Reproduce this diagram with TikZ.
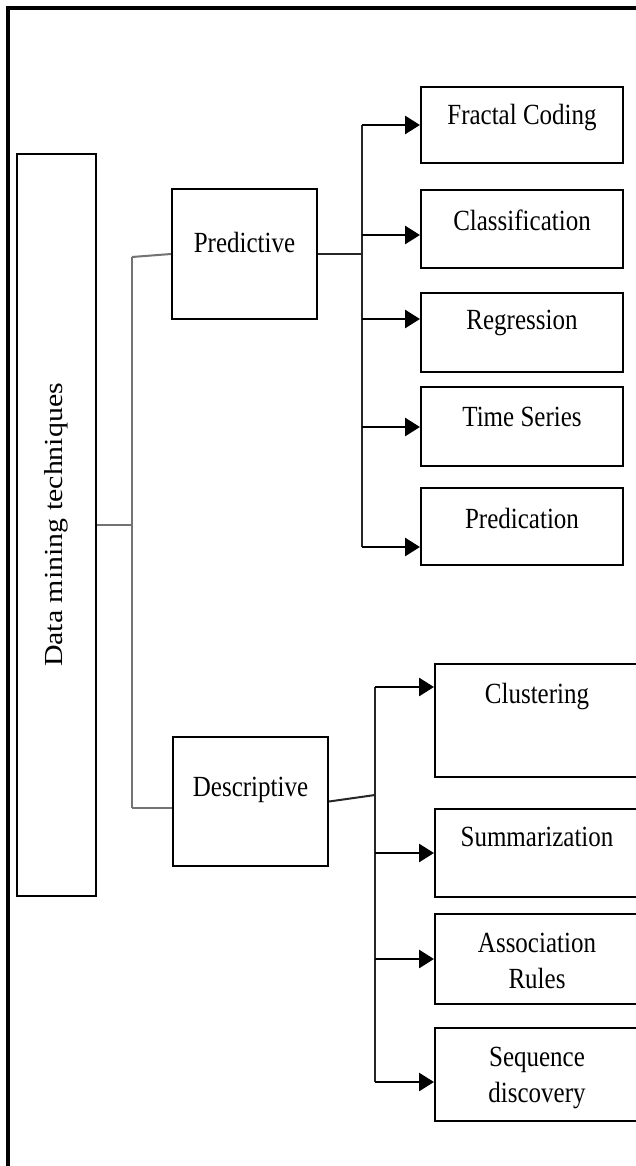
\documentclass[tikz,border=0pt]{standalone}
\usepackage{fontspec}
\setmainfont{Liberation Serif}
\usetikzlibrary{arrows.meta}
\newcommand{\st}[1]{\scalebox{1}[1.17]{#1}}
\begin{document}
\begin{tikzpicture}[x=1pt,y=-1pt,
  box/.style={draw, line width=2pt, inner sep=0pt},
  lbl/.style={font=\fontsize{25}{31}\selectfont, inner sep=0pt, align=center},
  conn/.style={line width=2pt, draw=black!55},
  bus/.style={line width=2pt, draw=black!85},
  arr/.style={line width=2.8pt, -{Triangle[length=15pt,width=18pt]}}]
\clip (0,0) rectangle (636,1166);
\fill[white] (0,0) rectangle (636,1166);
% outer frame (cropped on right and bottom)
\draw[line width=3.5pt] (8,1180) -- (8,8) -- (660,8);

% root
\node[box, minimum width=79pt, minimum height=742pt] (main) at (56.5,525) {};
\node[lbl, rotate=90, font=\fontsize{26}{31}\selectfont] (mainT) at (main.center) {\scalebox{1.15}[1]{Data mining techniques}};

% second level
\node[box, minimum width=145pt, minimum height=130pt] (pred) at (244.5,254) {};
\node[lbl] (predT) at (244.5,242) {\st{Predictive}};
\node[box, minimum width=155pt, minimum height=129pt] (desc) at (250.5,801.5) {};
\node[lbl] (descT) at (250.5,790) {\st{Descriptive}};

% predictive leaves
\node[box, minimum width=202pt, minimum height=76pt] (fc) at (522,125) {};
\node[lbl] (fcT) at (522,118) {\st{Fractal Coding}};
\node[box, minimum width=202pt, minimum height=78pt] (cl) at (522,229) {};
\node[lbl] (clT) at (522,220) {\st{Classification}};
\node[box, minimum width=202pt, minimum height=79pt] (rg) at (522,332.5) {};
\node[lbl] (rgT) at (522,323) {\st{Regression}};
\node[box, minimum width=202pt, minimum height=79pt] (ts) at (522,426.5) {};
\node[lbl] (tsT) at (522,417) {\st{Time Series}};
\node[box, minimum width=202pt, minimum height=77pt] (pr) at (522,526.5) {};
\node[lbl] (prT) at (522,518) {\st{Predication}};

% descriptive leaves
\node[box, minimum width=204pt, minimum height=113pt] (cu) at (537,720.5) {};
\node[lbl] (cuT) at (537,697) {\st{Clustering}};
\node[box, minimum width=204pt, minimum height=88pt] (su) at (537,853) {};
\node[lbl] (suT) at (537,837) {\st{Summarization}};
\node[box, minimum width=204pt, minimum height=90pt] (as) at (537,959) {};
\node[lbl] (asT) at (537,963) {\st{\begin{tabular}{@{}c@{}}Association\\Rules\end{tabular}}};
\node[box, minimum width=204pt, minimum height=93pt] (sq) at (537,1074.5) {};
\node[lbl] (sqT) at (537,1077) {\st{\begin{tabular}{@{}c@{}}Sequence\\discovery\end{tabular}}};

% root connectors
\coordinate (m1) at (132,525);
\coordinate (mt) at (132,257);
\coordinate (mb) at (132,808);
\draw[conn] (main.east) -- (m1);
\draw[conn] (mt) -- (mb);
\draw[conn] (mt) -- (pred.west);
\draw[conn] (mb) -- (mb -| desc.west);

% predictive bus
\coordinate (a1) at (362,125);
\coordinate (a2) at (362,235);
\coordinate (a3) at (362,319);
\coordinate (a4) at (362,427);
\coordinate (a5) at (362,547);
\draw[bus] (a1) -- (a5);
\draw[bus] (pred.east) -- (pred.east -| a1);
\draw[arr] (a1) -- (a1 -| fc.west);
\draw[arr] (a2) -- (a2 -| cl.west);
\draw[arr] (a3) -- (a3 -| rg.west);
\draw[arr] (a4) -- (a4 -| ts.west);
\draw[arr] (a5) -- (a5 -| pr.west);

% descriptive bus
\coordinate (b1) at (375,687);
\coordinate (b2) at (375,853);
\coordinate (b3) at (375,959);
\coordinate (b4) at (375,1082);
\coordinate (bj) at (375,795);
\draw[bus] (b1) -- (b4);
\draw[bus] (desc.east) -- (bj);
\draw[arr] (b1) -- (b1 -| cu.west);
\draw[arr] (b2) -- (b2 -| su.west);
\draw[arr] (b3) -- (b3 -| as.west);
\draw[arr] (b4) -- (b4 -| sq.west);
\end{tikzpicture}
\end{document}
